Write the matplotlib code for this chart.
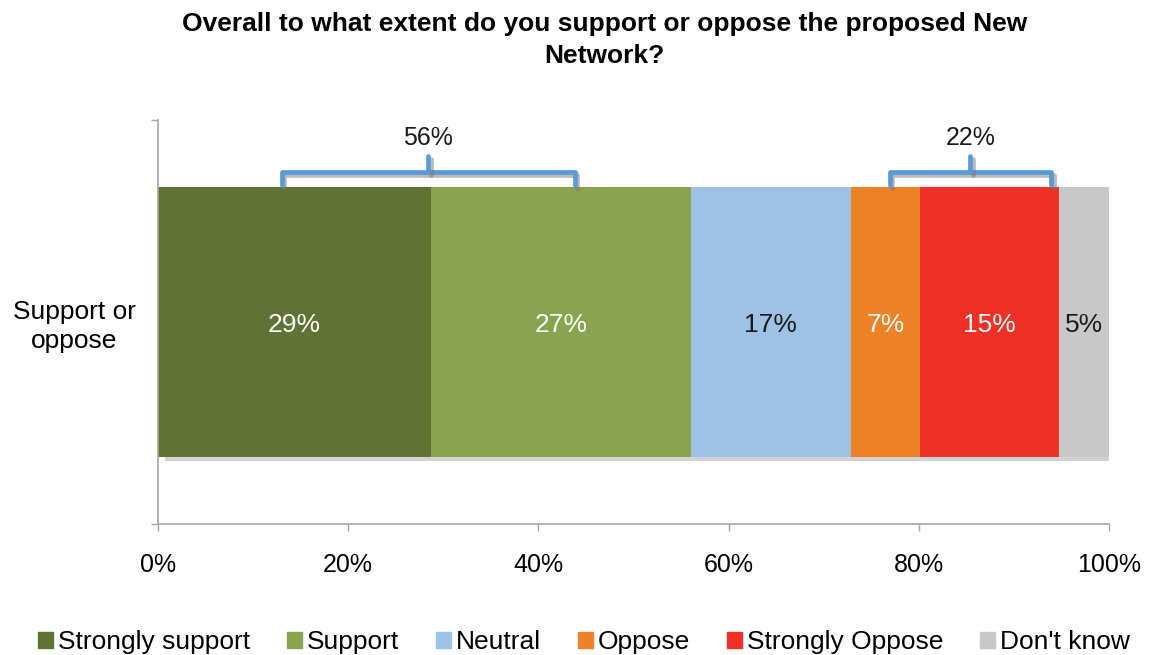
import matplotlib
matplotlib.use("Agg")
import matplotlib.pyplot as plt
import matplotlib.patheffects as pe
from matplotlib.patches import Rectangle
from matplotlib.font_manager import fontManager

names = {f.name for f in fontManager.ttflist}
BASE = "Liberation Sans" if "Liberation Sans" in names else "DejaVu Sans"
plt.rcParams["font.family"] = [BASE, "DejaVu Sans"]

# ---- data ----
title = "Overall to what extent do you support or oppose the proposed New\nNetwork?"
category = "Support or\noppose"
series = ["Strongly support", "Support", "Neutral", "Oppose", "Strongly Oppose", "Don't know"]
values = [28.7, 27.3, 16.8, 7.3, 14.6, 5.3]
labels = ["29%", "27%", "17%", "7%", "15%", "5%"]
colors = ["#617235", "#8AA34E", "#9DC2E6", "#EC8126", "#EE3124", "#C8C8C8"]
label_colors = ["white", "white", "#1a1a1a", "white", "white", "#1a1a1a"]
xticks = [0, 20, 40, 60, 80, 100]
xticklabels = ["0%", "20%", "40%", "60%", "80%", "100%"]
brackets = [(13.0, 43.8, "56%"), (76.9, 93.9, "22%")]

fig = plt.figure(figsize=(11.52, 6.55), dpi=100)
ax = fig.add_axes([0.137, 0.2, 0.826, 0.617])

bar_h = 0.668

# soft shadow for the whole bar
shadow = Rectangle((0.3, -bar_h / 2), sum(values) - 0.3, bar_h, facecolor="white", edgecolor="none", zorder=1)
ax.add_patch(shadow)
shadow.set_path_effects([pe.SimplePatchShadow(offset=(3, -3), shadow_rgbFace="#999999", alpha=0.45)])

left = 0
for v, c, lab, lc in zip(values, colors, labels, label_colors):
    ax.barh(0, v, left=left, height=bar_h, color=c, zorder=2)
    ax.text(left + v / 2, -0.008, lab, ha="center", va="center", color=lc, fontsize=19, zorder=4)
    left += v

# brackets
ybar_top = bar_h / 2
y_line = 0.371
y_tip = 0.41
shadow_fx = [pe.SimpleLineShadow(offset=(2, -2), shadow_color="#777777", alpha=0.5), pe.Normal()]
for x0, x1, txt in brackets:
    xm = (x0 + x1) / 2
    ax.plot([x0, x0, x1, x1], [ybar_top + 0.005, y_line, y_line, ybar_top + 0.005], color="#5B9BD5",
            lw=3.4, solid_joinstyle="round", solid_capstyle="round", zorder=5, path_effects=shadow_fx)
    ax.plot([xm, xm], [y_line, y_tip], color="#5B9BD5", lw=3.4, solid_capstyle="round", zorder=5,
            path_effects=shadow_fx)
    ax.text(xm, 0.455, txt, ha="center", va="center", fontsize=18, color="#1a1a1a")

ax.set_xlim(0, 100)
ax.set_ylim(-0.5, 0.5)
ax.set_xticks(xticks)
ax.set_xticklabels(xticklabels, fontsize=18)
ax.tick_params(axis="x", length=5, width=1, color="#a6a6a6", pad=16)
ax.set_yticks([0])
ax.set_yticklabels([category], fontsize=19, multialignment="center", linespacing=1.25)
ax.tick_params(axis="y", which="major", length=0, pad=16)
ax.set_yticks([-0.5, 0.5], minor=True)
ax.tick_params(axis="y", which="minor", length=5, width=1, color="#a6a6a6")
for s in ["top", "right"]:
    ax.spines[s].set_visible(False)
for s in ["left", "bottom"]:
    ax.spines[s].set_color("#a6a6a6")
    ax.spines[s].set_linewidth(1.2)

fig.text(0.525, 0.939, title, ha="center", va="center", fontsize=19, fontweight="bold", linespacing=1.4)

handles = [Rectangle((0, 0), 1, 1, color=c) for c in colors]
fig.legend(handles, series, loc="center", bbox_to_anchor=(0.507, 0.02), ncol=6, frameon=False,
           fontsize=19, handlelength=0.55, handleheight=0.55, handletextpad=0.2, columnspacing=1.4,
           borderaxespad=0)

fig.savefig("out.png", dpi=100)
